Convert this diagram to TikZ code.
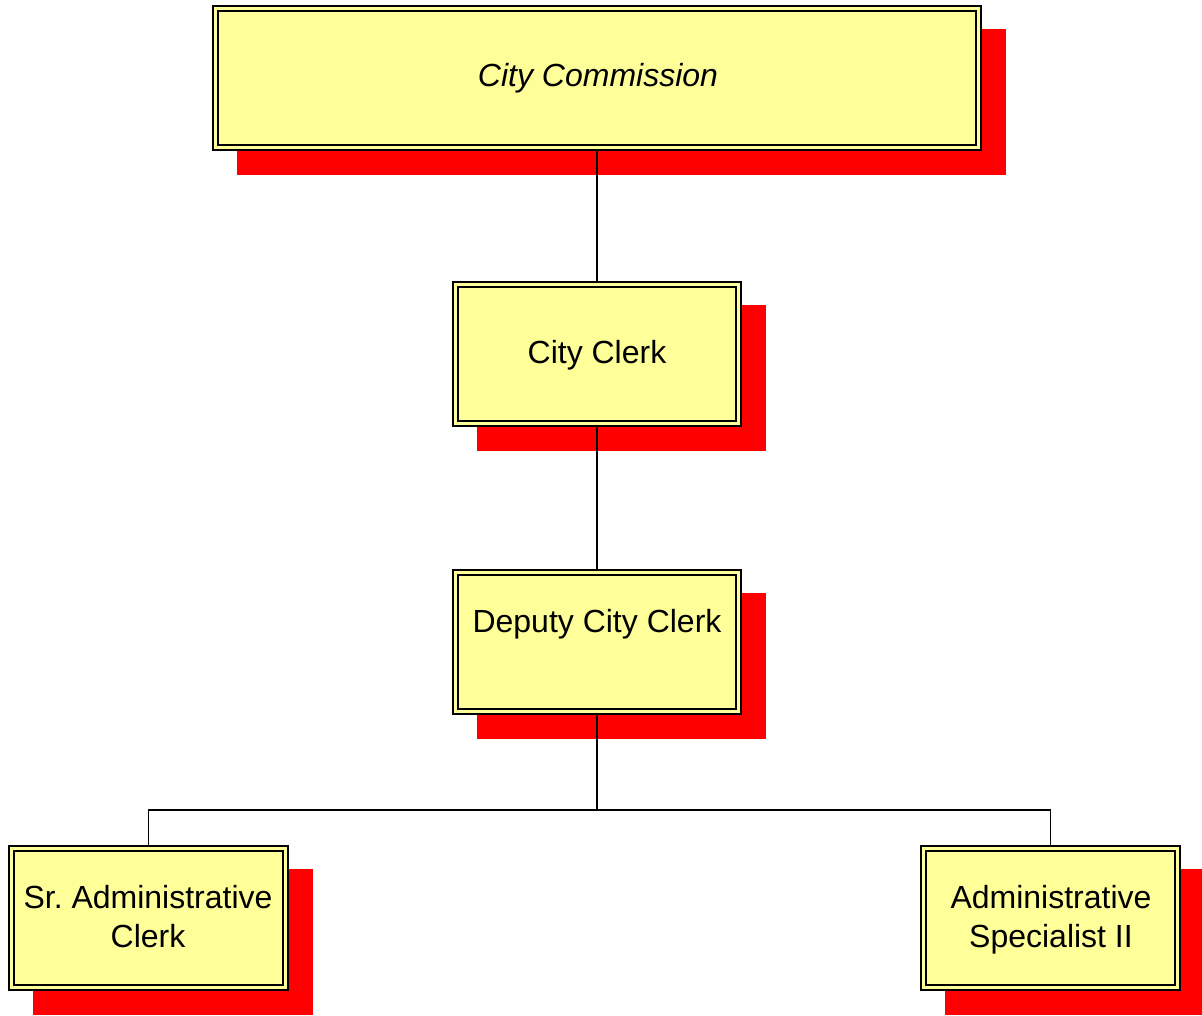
\documentclass[tikz,border=0pt]{standalone}
\usepackage{fontspec}
\setmainfont{Liberation Sans}
\frenchspacing
\begin{document}
\begin{tikzpicture}[x=1pt,y=-1pt,
  shadowbox/.style={fill=red,draw=none},
  innerframe/.style={draw=black,line width=1.6pt},
  link/.style={draw=black,line width=1.3pt},
  label/.style={font=\fontsize{32}{39}\selectfont,align=center,inner sep=0pt}]
\useasboundingbox (0,0) rectangle (1202,1015);
\definecolor{posty}{RGB}{255,255,153}
\tikzset{postbox/.style={fill=posty,draw=black,line width=2pt}}
% boxes: name, left, top, right, bottom
\foreach \n/\l/\t/\r/\b in {com/213/6/981/150, clerk/453/282/741/426, dep/453/570/741/714, sr/9/846/288/990, spec/921/846/1180/990}{
  \fill[shadowbox] (\l+24,\t+23) rectangle (\r+25,\b+25);
  \path[postbox] (\l,\t) rectangle (\r,\b);
  \draw[innerframe] (\l+5,\t+5) rectangle (\r-5,\b-5);
  \coordinate (\n-top) at ({(\l+\r)/2},\t);
  \coordinate (\n-bot) at ({(\l+\r)/2},\b);
}
\node[label,font=\fontsize{32}{39}\selectfont\itshape] (tcom) at (598,78) {City Commission};
\node[label] (tclerk) at (597,355) {City Clerk};
\node[label] (tdep) at (597,624) {Deputy City Clerk};
\node[label] (tsr) at (148,917) {Sr. Administrative\\Clerk};
\node[label] (tspec) at (1051,920) {Administrative\\Specialist II};
\coordinate (split) at (597,810);
\draw[link] (com-bot) -- (clerk-top);
\draw[link] (clerk-bot) -- (dep-top);
\draw[link] (dep-bot) -- (split);
\draw[link] (sr-top) |- (split) -| (spec-top);
\end{tikzpicture}
\end{document}
